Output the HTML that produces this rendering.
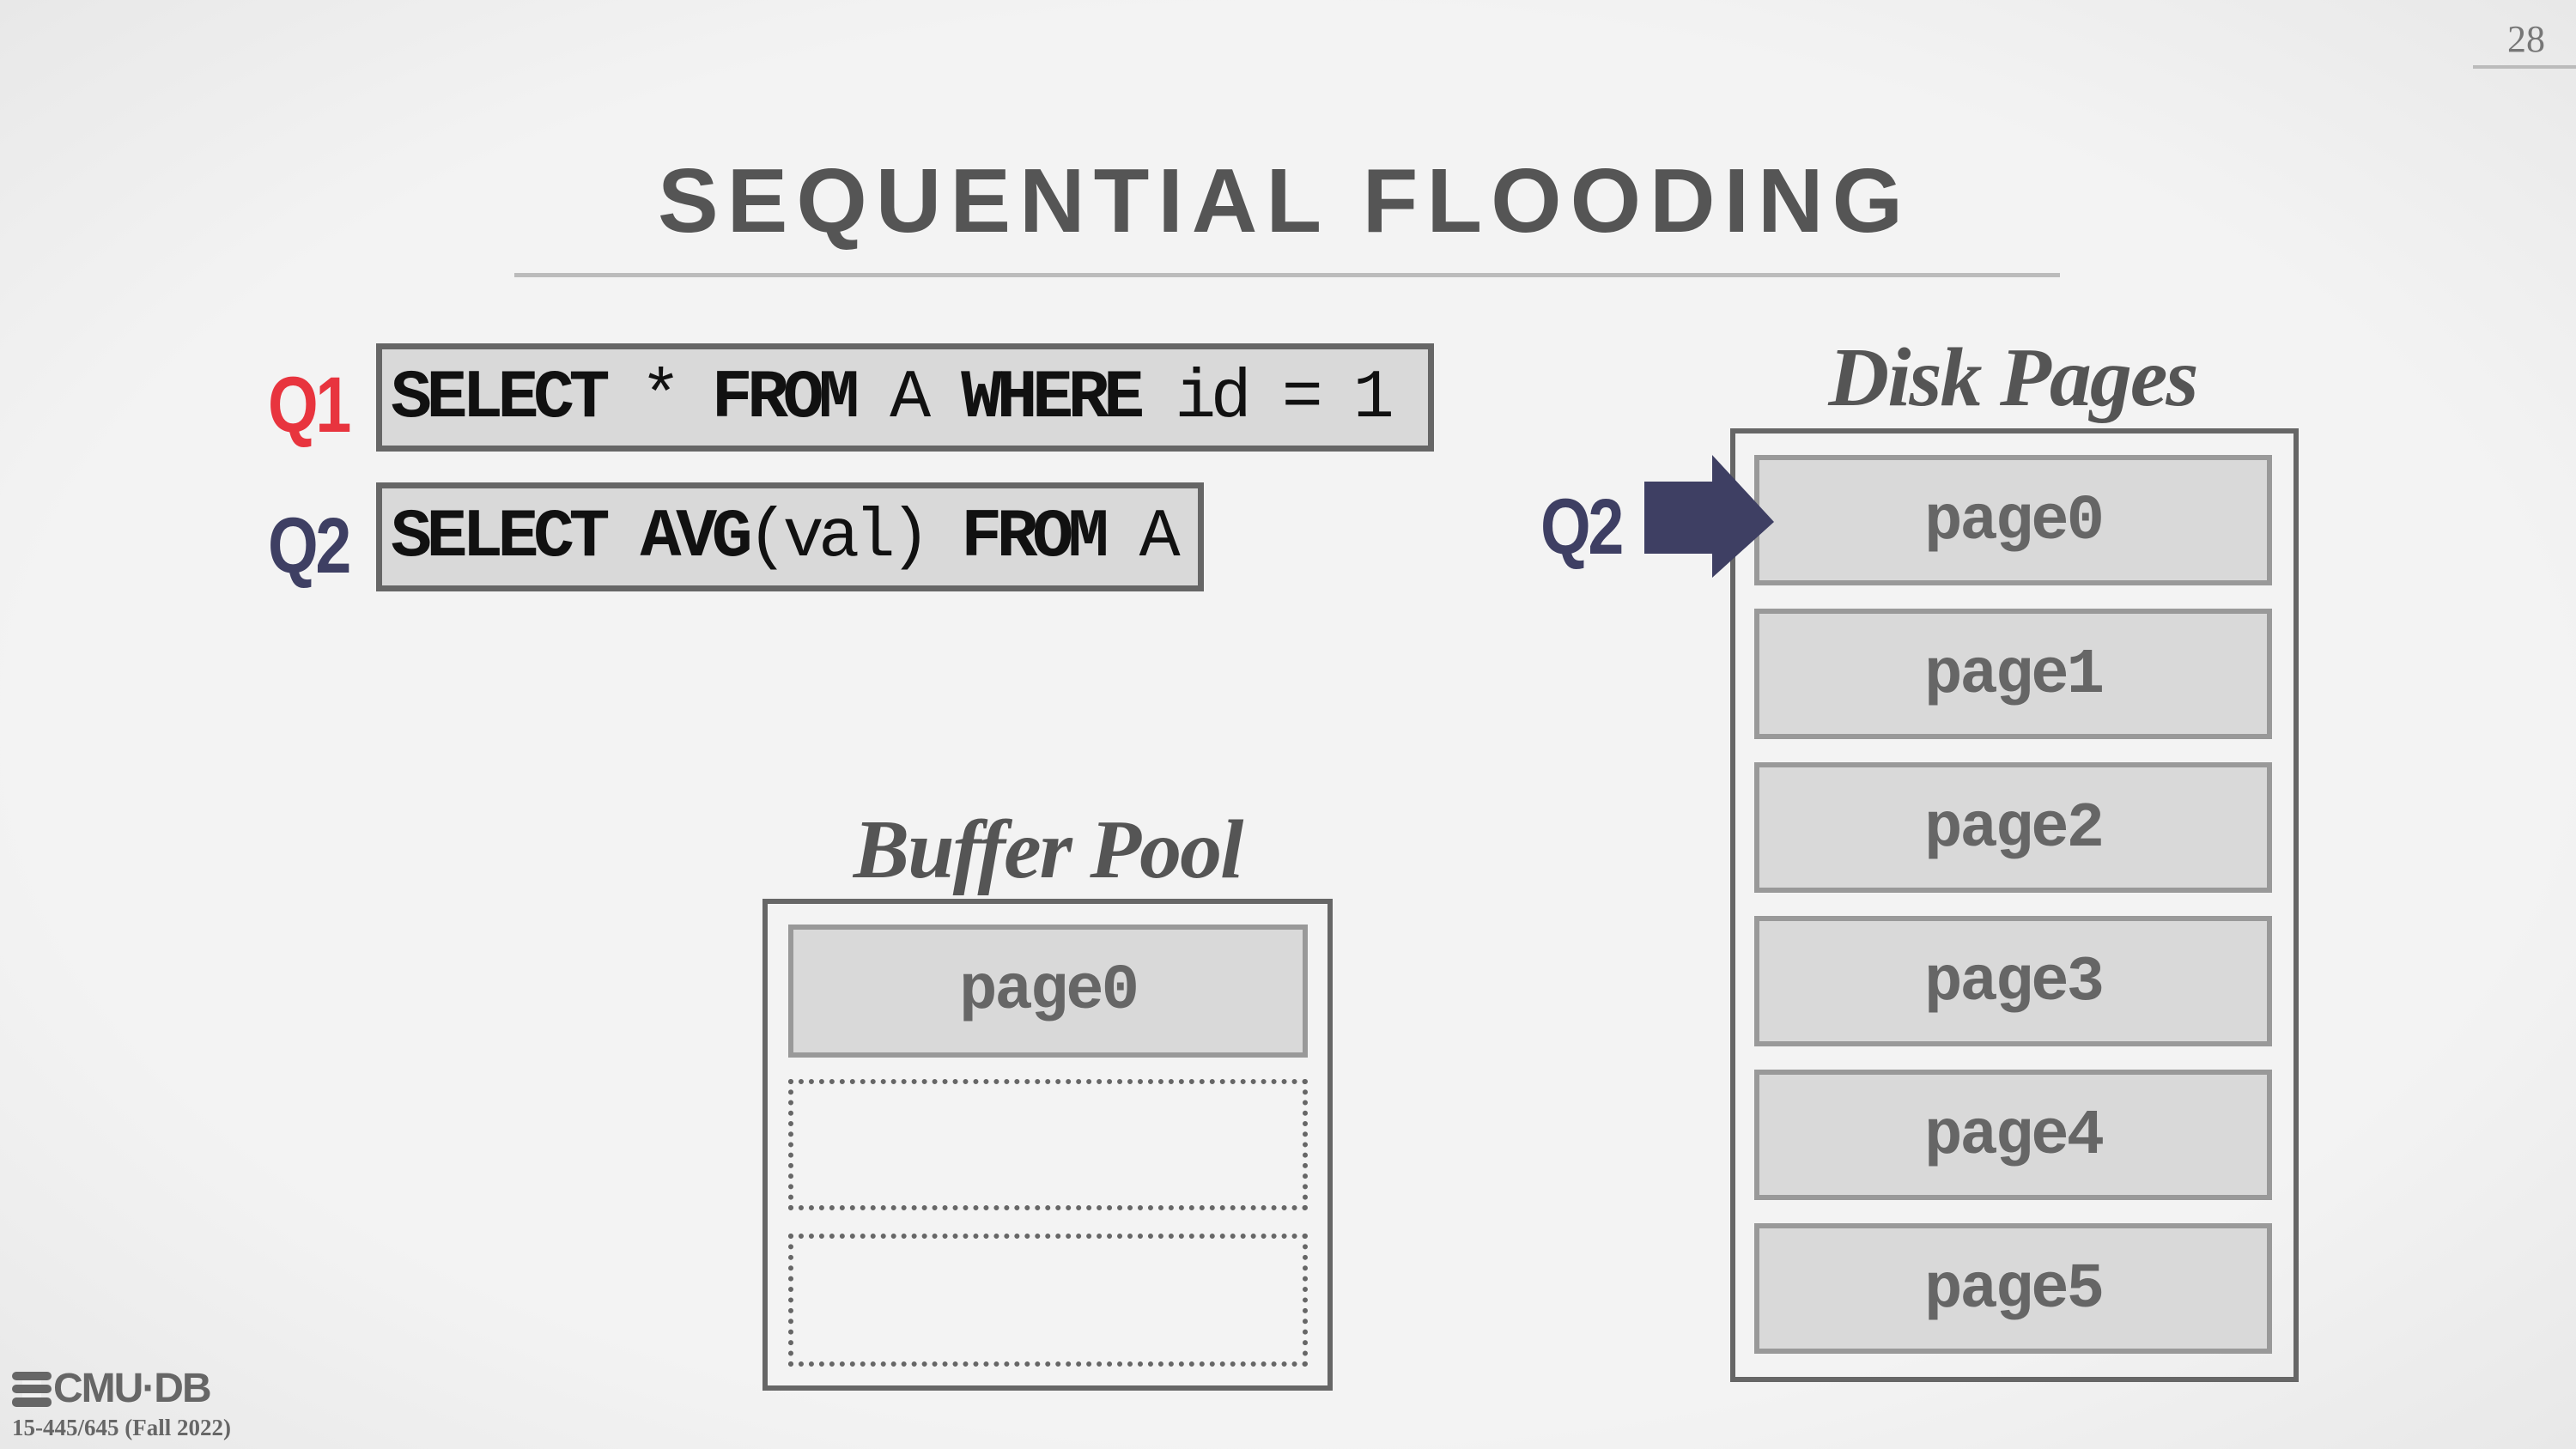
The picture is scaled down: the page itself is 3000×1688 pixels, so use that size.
<!DOCTYPE html>
<html><head><meta charset="utf-8"><style>
*{margin:0;padding:0;box-sizing:border-box}
body{width:3000px;height:1688px;overflow:hidden;background:#f2f2f2;position:relative;font-family:"Liberation Sans",sans-serif}
.a{position:absolute}
.title{left:0;width:2992px;top:174px;text-align:center;font:bold 106px "Liberation Sans",sans-serif;letter-spacing:10px;color:#555}
.sql{background:#d9d9d9;border:7px solid #666;font:bold 80px "Liberation Mono",monospace;letter-spacing:-6.5px;color:#111;padding-left:10px;line-height:116px;white-space:pre}
.sql span{font-weight:normal}
.q{font:bold 92px "Liberation Sans",sans-serif;letter-spacing:-4px;line-height:1;transform:scaleX(0.82);transform-origin:left top}
.pg{background:#d9d9d9;border:6px solid #999;font:bold 74px "Liberation Mono",monospace;color:#666;text-align:center;line-height:144px;letter-spacing:-3px}
.dot{border:6px dotted #666}
.hdr{font:italic bold 98px "Liberation Serif",serif;color:#555;text-align:center;letter-spacing:-2px}
</style></head><body>
<div class="a" style="left:0;top:0;width:3000px;height:1688px;background:radial-gradient(ellipse at center,#f3f3f3 70%,#e8e8e8 100%)"></div>
<div class="a" style="left:2920px;top:20px;font:44px 'Liberation Serif',serif;color:#777">28</div>
<div class="a" style="left:2880px;top:76px;width:120px;height:4px;background:#bbb"></div>
<div class="a title">SEQUENTIAL FLOODING</div>
<div class="a" style="left:599px;top:318px;width:1800px;height:5px;background:#bbb"></div>

<div class="a q" style="left:312px;top:426px;color:#e8343e">Q1</div>
<div class="a sql" style="left:438px;top:400px;width:1232px;height:126px">SELECT <span>*</span> FROM <span>A</span> WHERE <span>id = 1</span></div>
<div class="a q" style="left:312px;top:590px;color:#3e3f63">Q2</div>
<div class="a sql" style="left:438px;top:562px;width:964px;height:127px">SELECT AVG<span>(val)</span> FROM <span>A</span></div>

<div class="a hdr" style="left:2044px;top:384px;width:600px">Disk Pages</div>
<div class="a" style="left:2015px;top:499px;width:662px;height:1111px;border:6px solid #666"></div>
<div class="a pg" style="left:2043px;top:530px;width:603px;height:152px">page0</div>
<div class="a pg" style="left:2043px;top:709px;width:603px;height:152px">page1</div>
<div class="a pg" style="left:2043px;top:888px;width:603px;height:152px">page2</div>
<div class="a pg" style="left:2043px;top:1067px;width:603px;height:152px">page3</div>
<div class="a pg" style="left:2043px;top:1246px;width:603px;height:152px">page4</div>
<div class="a pg" style="left:2043px;top:1425px;width:603px;height:152px">page5</div>

<div class="a q" style="left:1794px;top:568px;color:#3e3f63">Q2</div>
<svg class="a" style="left:1900px;top:520px" width="180" height="160"><polygon points="15,41 94,41 94,10 166,88 94,153 94,125 15,125" fill="#3e3f63"/></svg>

<div class="a hdr" style="left:920px;top:934px;width:600px">Buffer Pool</div>
<div class="a" style="left:888px;top:1047px;width:664px;height:573px;border:6px solid #666"></div>
<div class="a pg" style="left:918px;top:1077px;width:605px;height:155px">page0</div>
<div class="a dot" style="left:918px;top:1257px;width:605px;height:153px"></div>
<div class="a dot" style="left:918px;top:1437px;width:605px;height:155px"></div>

<svg class="a" style="left:14px;top:1598px" width="46" height="42"><g fill="#666"><rect x="0" y="0" width="46" height="10" rx="5"/><rect x="0" y="15" width="46" height="10" rx="5"/><rect x="0" y="30" width="46" height="11" rx="5"/></g><g fill="#f2f2f2"><rect x="12" y="10" width="22" height="5"/><rect x="12" y="25" width="22" height="5"/></g></svg>
<div class="a" style="left:62px;top:1590px;font:bold 48px 'Liberation Sans',sans-serif;color:#666;letter-spacing:-2px">CMU·DB</div>
<div class="a" style="left:14px;top:1648px;font:bold 27px 'Liberation Serif',serif;color:#666">15-445/645 (Fall 2022)</div>
</body></html>
